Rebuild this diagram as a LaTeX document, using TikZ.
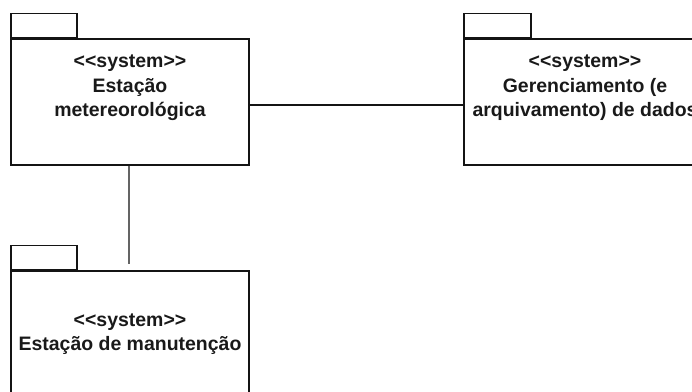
\documentclass[tikz,border=0pt]{standalone}
\usepackage{fontspec}
\setmainfont{Liberation Sans}
\usetikzlibrary{positioning}
\definecolor{pkgline}{RGB}{20,20,20}
\definecolor{linkgrey}{RGB}{100,100,100}
\newcommand{\stereo}[1]{<{}<#1>{}>}

\begin{document}
\begin{tikzpicture}[
  x=0.75pt, y=-0.75pt,
  font=\bfseries\fontsize{14.6}{18.4}\selectfont,
  body/.style={rectangle, draw=pkgline, line width=1pt,
              minimum width=178.5pt, minimum height=94.5pt, inner sep=0pt},
  tab/.style={rectangle, draw=pkgline, line width=1pt,
              minimum height=18pt, inner sep=0pt, anchor=south west},
  txt/.style={align=center, text=black!90},
  link/.style={line width=1pt, pkgline},
  glink/.style={line width=1pt, linkgrey}
]
\useasboundingbox (0,0) rectangle (692,392);

% ── Package bodies ──
\node[body] (meteo) at (130,102) {};
\node[body] (dados) at (583,102) {};
\node[body] (manut) at (130,334) {};

% ── Tabs on the upper left corner ──
\node[tab, minimum width=49.5pt] (meteotab) at (meteo.north west) {};
\node[tab, minimum width=50.25pt] (dadostab) at (dados.north west) {};
\node[tab, minimum width=49.5pt] (manuttab) at (manut.north west) {};

% ── Names ──
\node[txt] (meteotxt) at (130,88)
  {\stereo{system}\\Estação\\metereorológica};
\node[txt] (dadostxt) at (585,88)
  {\stereo{system}\\Gerenciamento (e\\arquivamento) de dados};
\node[txt] (manuttxt) at (130,334)
  {\stereo{system}\\Estação de manutenção};

% ── Links ──
\draw[link] ([yshift=-2.25pt]meteo.east) -- ([yshift=-2.25pt]dados.west);
\draw[glink, shorten >=4.5pt] ([xshift=-0.75pt]meteo.south) -- ([xshift=-0.75pt]manut.north);

\end{tikzpicture}
\end{document}
